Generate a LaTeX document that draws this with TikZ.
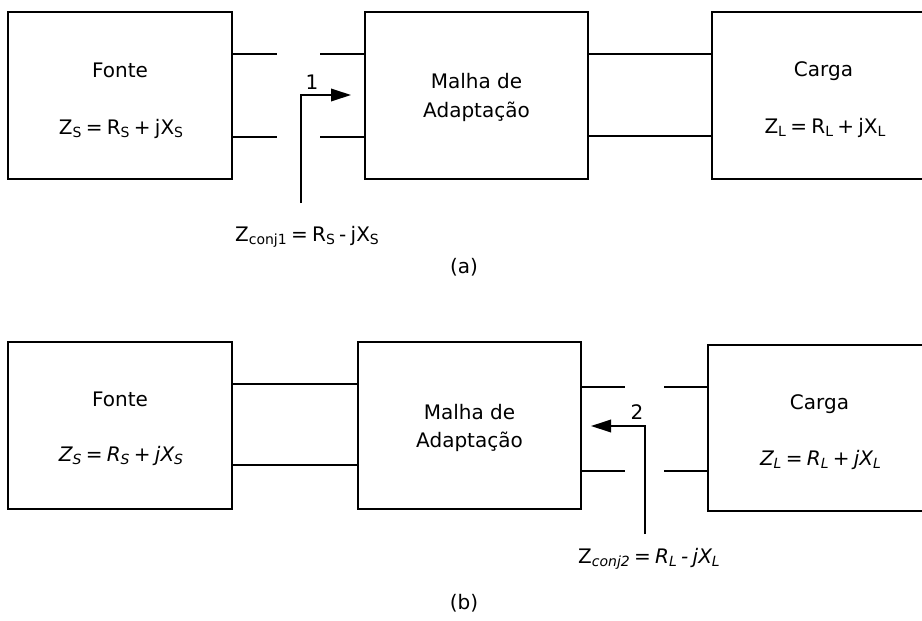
\documentclass[tikz,border=0pt]{standalone}
\usepackage{fontspec}
\setmainfont{DejaVu Sans}
\usetikzlibrary{arrows.meta}
% lowered, smaller subscript
\newcommand\lo[1]{\raisebox{-3pt}{\fontsize{14}{14}\selectfont #1}}
% narrower word spaces for the impedance formulas
\newcommand\tightspaces{\spaceskip=4.3pt\relax}

\begin{document}
\begin{tikzpicture}[x=1pt,y=-1pt,
  blk/.style={draw, line width=2pt, inner sep=0pt, outer sep=0pt, anchor=north west, minimum height=167pt},
  lbl/.style={anchor=base, inner sep=0pt, font=\fontsize{20}{24}\selectfont},
  fml/.style={anchor=base, inner sep=0pt, font=\fontsize{20}{24}\selectfont\tightspaces},
  wire/.style={line width=2pt},
  arr/.style={line width=2pt, -{Triangle[length=20pt,width=12.5pt]}}]

\clip (0,0) rectangle (922,621);

% ---------------- (a) ----------------
\node[blk, minimum width=224pt] (fonteA) at (8,12) {};
\node[blk, minimum width=223pt] (malhaA) at (365,12) {};
\node[blk, minimum width=230pt] (cargaA) at (712,12) {};

\node[lbl] (fonteAt) at (120,77) {Fonte};
\node[fml] (fonteAz) at (121,134) {Z\lo{S} = R\lo{S} + jX\lo{S}};
\node[lbl] (malhaAt) at (476.5,88) {Malha de};
\node[lbl] (malhaAu) at (476.5,117) {Adaptação};
\node[lbl] (cargaAt) at (823.5,76) {Carga};
\node[fml] (cargaAz) at (825,133) {Z\lo{L} = R\lo{L} + jX\lo{L}};

% open terminals between source and network
\coordinate (gA1) at (277,54);
\coordinate (gA2) at (277,137);
\coordinate (hA1) at (320,54);
\coordinate (hA2) at (320,137);
\draw[wire] (fonteA.east |- gA1) -- (gA1);
\draw[wire] (fonteA.east |- gA2) -- (gA2);
\draw[wire] (hA1) -- (malhaA.west |- hA1);
\draw[wire] (hA2) -- (malhaA.west |- hA2);

% network to load
\coordinate (kA1) at (0,54);
\coordinate (kA2) at (0,136);
\draw[wire] (malhaA.east |- kA1) -- (cargaA.west |- kA1);
\draw[wire] (malhaA.east |- kA2) -- (cargaA.west |- kA2);

% reference arrow 1
\coordinate (pA) at (301,203);
\coordinate (tA) at (351,95);
\draw[arr] (pA) |- (tA);
\node[lbl] (nA) at (312,89) {1};
\node[fml] (zA) at (307,241) {Z\lo{conj1} = R\lo{S} - jX\lo{S}};

\node[lbl] (capA) at (464,273) {(a)};

% ---------------- (b) ----------------
\node[blk, minimum width=224pt] (fonteB) at (8,342) {};
\node[blk, minimum width=223pt] (malhaB) at (358,342) {};
\node[blk, minimum width=234pt, minimum height=166pt] (cargaB) at (708,345) {};

\node[lbl] (fonteBt) at (120,406) {Fonte};
\node[fml] (fonteBz) at (121,461) {\itshape Z\lo{S} = R\lo{S} + jX\lo{S}};
\node[lbl] (malhaBt) at (469.5,419.5) {Malha de};
\node[lbl] (malhaBu) at (469.5,447) {Adaptação};
\node[lbl] (cargaBt) at (819.5,409.5) {Carga};
\node[fml] (cargaBz) at (820.5,465) {\itshape Z\lo{L} = R\lo{L} + jX\lo{L}};

% source to network
\coordinate (kB1) at (0,384);
\coordinate (kB2) at (0,465);
\draw[wire] (fonteB.east |- kB1) -- (malhaB.west |- kB1);
\draw[wire] (fonteB.east |- kB2) -- (malhaB.west |- kB2);

% open terminals between network and load
\coordinate (gB1) at (625,387);
\coordinate (gB2) at (625,471);
\coordinate (hB1) at (664,387);
\coordinate (hB2) at (664,471);
\draw[wire] (malhaB.east |- gB1) -- (gB1);
\draw[wire] (malhaB.east |- gB2) -- (gB2);
\draw[wire] (hB1) -- (cargaB.west |- hB1);
\draw[wire] (hB2) -- (cargaB.west |- hB2);

% reference arrow 2
\coordinate (pB) at (645,534);
\coordinate (tB) at (591,426);
\draw[arr] (pB) |- (tB);
\node[lbl] (nB) at (637,419.5) {2};
\node[fml] (zB) at (649,563.5) {Z\itshape\lo{conj2} = R\lo{L} - jX\lo{L}};

\node[lbl] (capB) at (464,609) {(b)};
\end{tikzpicture}
\end{document}
